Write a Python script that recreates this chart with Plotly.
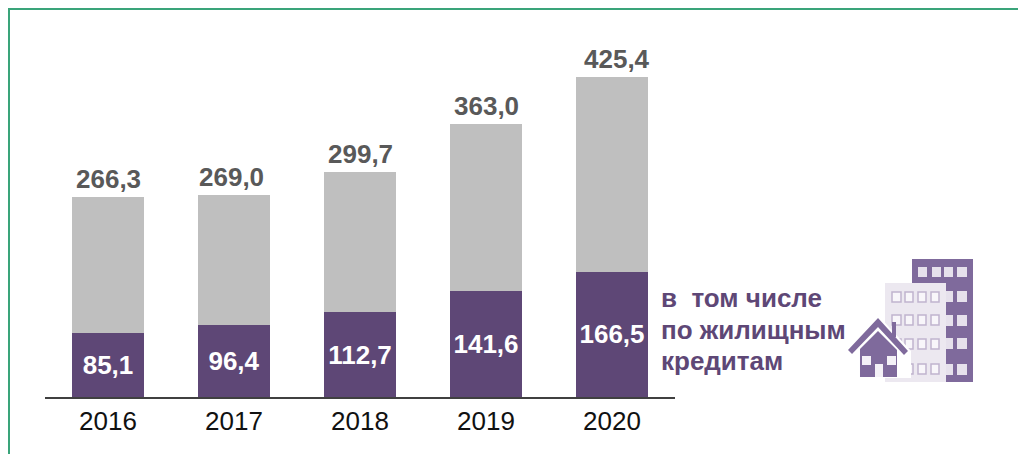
import plotly.graph_objects as go

years = ["2016", "2017", "2018", "2019", "2020"]
totals = [266.3, 269.0, 299.7, 363.0, 425.4]
housing = [85.1, 96.4, 112.7, 141.6, 166.5]
side_text = ["в  том числе", "по жилищным", "кредитам"]
total_label_nudge = [0, -3, 0, 0, 5]

W, H = 1018, 454
FONT = "Liberation Sans, Arial, sans-serif"
PURPLE = "#5e4776"
ICON = "#7f6a9c"
GRAY = "#bfbfbf"
GREEN = "#3aa47a"


def fmt(v):
    return f"{v:.1f}".replace(".", ",")


def px(x):
    return x / W


def py(y):
    return 1 - y / H


rest = [round(t - h, 1) for t, h in zip(totals, housing)]

fig = go.Figure()
fig.add_bar(x=years, y=housing, marker=dict(color=PURPLE, line_width=0),
            text=[fmt(v) for v in housing], textposition="inside",
            insidetextanchor="middle", textangle=0, constraintext="none",
            textfont=dict(family=FONT, size=26, color="white", weight="bold"),
            hoverinfo="skip")
fig.add_bar(x=years, y=rest, marker=dict(color=GRAY, line_width=0), hoverinfo="skip")

shapes = []


def rect(x0, y0, x1, y1, color, line=None, layer="above"):
    shapes.append(dict(type="rect", xref="paper", yref="paper", x0=px(x0), x1=px(x1),
                       y0=py(y0), y1=py(y1), fillcolor=color, layer=layer,
                       line=dict(width=1.5 if line else 0, color=line or color)))


def poly(points, color):
    path = "M " + " L ".join(f"{px(x):.5f},{py(y):.5f}" for x, y in points) + " Z"
    shapes.append(dict(type="path", xref="paper", yref="paper", path=path,
                       fillcolor=color, line_width=0))


# green frame
rect(8, 8, W, 10, GREEN)
rect(8, 8, 10, H, GREEN)

# tall dark building
rect(912, 259, 973, 382, ICON)
for x0, x1 in [(918, 927), (932, 941), (944, 953), (957, 967)]:
    rect(x0, 267, x1, 277, "#e6e1ec")
for y0, y1 in [(291, 302), (315, 326), (338, 349), (364, 375)]:
    rect(957, y0, 967, y1, "#e6e1ec")
    rect(946, y0, 953, y1, "#e6e1ec")
# light building
rect(885, 283, 946, 382, "#ece8f0")
for y0, y1 in [(292, 302), (315, 325), (339, 349), (364, 374)]:
    for x0, x1 in [(892, 901), (905, 913), (918, 926), (931, 939)]:
        rect(x0, y0, x1, y1, "#f8f6fa", line="#c0b4ce")
# house: white halo, then chimney, roof and body
poly([(878, 315), (911, 351), (911, 378), (858, 378), (858, 356), (845, 351)], "#ffffff")
rect(892, 322, 896, 337, ICON)
poly([(878, 318), (908, 351), (904, 355), (878, 327), (852, 354), (848, 350)], ICON)
poly([(878, 331), (897, 350), (897, 377), (860, 377), (860, 349)], ICON)
rect(862, 356, 871, 365, "#f4f1f7")
rect(887, 356, 896, 365, "#f4f1f7")
rect(875, 364, 883, 377, "#f4f1f7")

annotations = [
    dict(xref="paper", yref="paper", x=px(659), y=py(y), text=t, showarrow=False,
         xanchor="left", yanchor="middle",
         font=dict(family=FONT, size=26, color=PURPLE, weight="bold"))
    for t, y in zip(side_text, [298, 330, 361])
]
annotations += [
    dict(xref="x", yref="y", x=i, y=t, text=fmt(t), showarrow=False, xanchor="center",
         yanchor="bottom", xshift=n, yshift=1,
         font=dict(family=FONT, size=26, color="#595959", weight="bold"))
    for i, (t, n) in enumerate(zip(totals, total_label_nudge))
]

fig.update_layout(
    width=W, height=H, margin=dict(l=0, r=0, t=0, b=0, autoexpand=False), autosize=False,
    paper_bgcolor="white", plot_bgcolor="white", showlegend=False,
    barmode="stack", bargap=0.4286,
    shapes=shapes, annotations=annotations,
    xaxis=dict(type="category", categoryorder="array", categoryarray=years,
               range=[-0.5, len(years) - 0.5],
               domain=[px(45), px(675)], showgrid=False, zeroline=False, ticks="",
               showline=True, linecolor="#404040", linewidth=2, anchor="y",
               tickfont=dict(family=FONT, size=26, color="#111111")),
    yaxis=dict(domain=[py(397), 1], range=[0, 397 / 0.752], visible=False),
)
fig.write_html("out.html", config=dict(displayModeBar=False),
               post_script="document.body.style.margin='0';document.body.style.overflow='hidden';")
